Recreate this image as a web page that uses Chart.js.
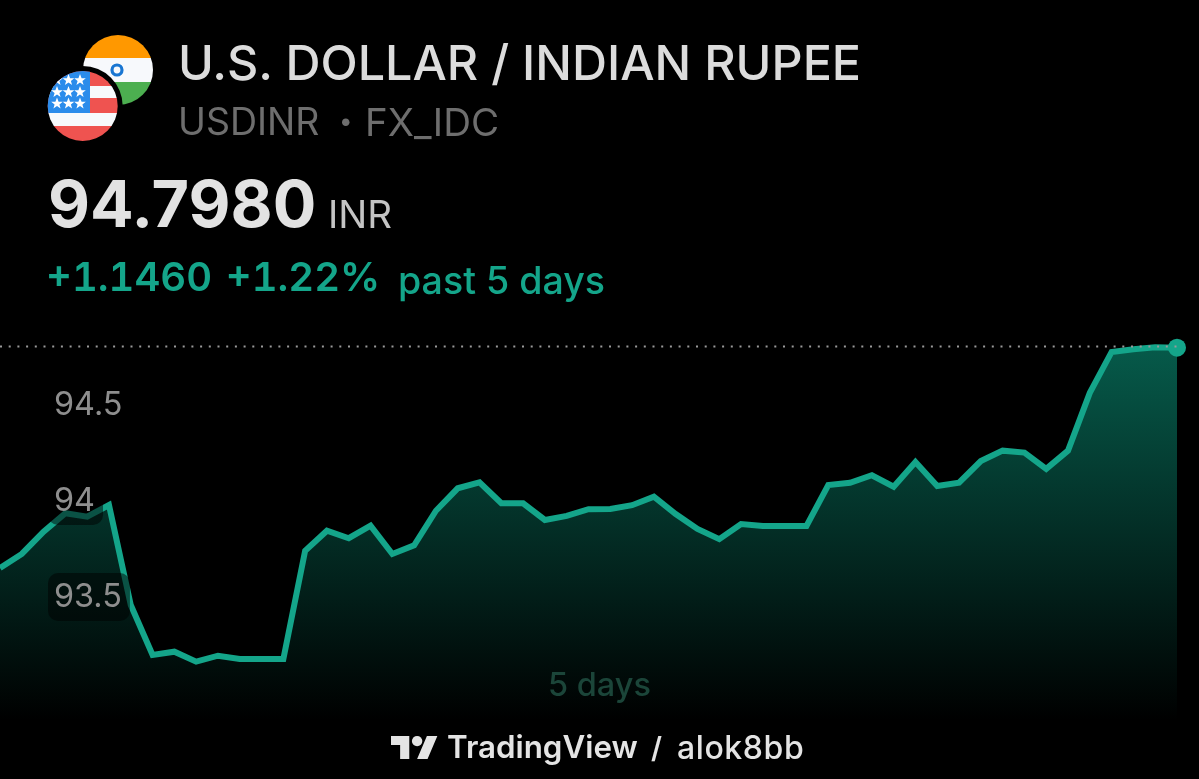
<!DOCTYPE html>
<html>
<head>
<meta charset="utf-8">
<title>USDINR</title>
<script src="https://cdn.jsdelivr.net/npm/chart.js@4/dist/chart.umd.min.js"></script>
<style>
  html, body { margin: 0; background: #000; }
  #page { position: relative; width: 1199px; height: 779px; overflow: hidden; font-family: Inter, sans-serif; }
  #page div, #page span { white-space: nowrap; }
  canvas { position: absolute; left: 0; top: 0; }
  .txt { position: absolute; line-height: 1; }
  #title { left: 178px; top: 39px; font-size: 48.5px; font-weight: 500; color: #dcdcdc; }
  #symbol { left: 178px; top: 103px; font-size: 37.5px; color: #6e6e6e; }
  #dot { left: 339px; top: 109px; font-size: 24px; color: #6e6e6e; }
  #feed { left: 365px; top: 103px; font-size: 38.5px; color: #6e6e6e; }
  #price { left: 48px; top: 172px; font-size: 64.7px; font-weight: 700; color: #e2e2e2; }
  #currency { left: 328px; top: 195px; font-size: 38.5px; color: #c4c4c4; }
  #change { left: 46px; top: 257px; font-size: 40px; font-weight: 600; color: #14a58a; font-feature-settings: 'tnum'; word-spacing: 3px; }
  #period { left: 398px; top: 262px; font-size: 37.6px; font-weight: 500; color: #14a58a; }
  #range { left: 548px; top: 669px; font-size: 32.5px; font-weight: 500; color: #1b4539; }
  #brand { left: 447px; top: 732px; font-size: 31.3px; font-weight: 600; color: #e4e4e4; }
  #slash { left: 651px; top: 733px; font-size: 29px; font-weight: 600; color: #e4e4e4; }
  #user { left: 677px; top: 732px; font-size: 32px; font-weight: 500; color: #e4e4e4; letter-spacing: 0.6px; }
  svg { position: absolute; }
</style>
</head>
<body>
<div id="page">
  <canvas id="priceChart" width="1199" height="779"></canvas>

  <svg id="flags" style="left:0;top:0" width="170" height="150" viewBox="0 0 170 150">
    <defs>
      <clipPath id="clipIn"><circle cx="118" cy="70" r="35"/></clipPath>
      <clipPath id="clipUs"><circle cx="82.7" cy="106" r="35"/></clipPath>
      <polygon id="star" points="0,-6 1.6,-1.8 5.8,-1.8 2.4,0.9 3.6,5 0,2.5 -3.6,5 -2.4,0.9 -5.8,-1.8 -1.6,-1.8" fill="#fff"/>
    </defs>
    <g clip-path="url(#clipIn)">
      <rect x="80" y="30" width="80" height="28" fill="#ff9800"/>
      <rect x="80" y="58" width="80" height="24" fill="#f7f9fc"/>
      <rect x="80" y="82" width="80" height="28" fill="#4caf50"/>
      <circle cx="117" cy="70" r="5" fill="none" stroke="#1976d2" stroke-width="3.2"/>
    </g>
    <circle cx="82.7" cy="106" r="40" fill="#000"/>
    <g clip-path="url(#clipUs)">
      <rect x="45" y="70" width="76" height="16" fill="#ef5350"/>
      <rect x="45" y="86" width="76" height="12" fill="#f7f9fc"/>
      <rect x="45" y="98" width="76" height="15" fill="#ef5350"/>
      <rect x="45" y="113" width="76" height="13" fill="#f7f9fc"/>
      <rect x="45" y="126" width="76" height="16" fill="#ef5350"/>
      <rect x="45" y="70" width="45" height="43" fill="#2b8ceb"/>
      <use href="#star" x="57" y="80"/><use href="#star" x="68.5" y="80"/><use href="#star" x="80" y="80"/>
      <use href="#star" x="57" y="92"/><use href="#star" x="68.5" y="92"/><use href="#star" x="80" y="92"/>
      <use href="#star" x="57" y="103.5"/><use href="#star" x="68.5" y="103.5"/><use href="#star" x="80" y="103.5"/>
    </g>
  </svg>

  <div class="txt" id="title">U.S. DOLLAR / INDIAN RUPEE</div>
  <div class="txt" id="symbol">USDINR</div>
  <div class="txt" id="dot">•</div>
  <div class="txt" id="feed">FX_IDC</div>
  <div class="txt" id="price">94.7980</div>
  <div class="txt" id="currency">INR</div>
  <div class="txt" id="change">+1.1460 +1.22%</div>
  <div class="txt" id="period">past 5 days</div>
  <div class="txt" id="range">5 days</div>

  <svg style="left:391px;top:736px" width="47" height="23" viewBox="0 4 36 18" preserveAspectRatio="none" fill="#e4e4e4">
    <path d="M14 22H7V11H0V4h14v18zM28 22h-8l7.5-18h8L28 22z"/>
    <circle cx="20" cy="8" r="4"/>
  </svg>
  <div class="txt" id="brand">TradingView</div>
  <div class="txt" id="slash">/</div>
  <div class="txt" id="user">alok8bb</div>
</div>

<script>
// USDINR closes, oldest first
var closes = [
    93.651, 93.724, 93.840, 93.936, 93.918, 93.979, 93.458, 93.198, 93.215, 93.163,
    93.194, 93.177, 93.177, 93.177, 93.741, 93.845, 93.806, 93.871, 93.724, 93.769,
    93.949, 94.066, 94.097, 93.988, 93.988, 93.901, 93.922, 93.957, 93.958, 93.978,
    94.022, 93.932, 93.854, 93.801, 93.880, 93.870, 93.870, 93.870, 94.083, 94.095,
    94.134, 94.074, 94.203, 94.078, 94.095, 94.208, 94.262, 94.252, 94.167, 94.262,
    94.563, 94.776, 94.790, 94.800, 94.798
];
var bars = closes.map(function (c, i) { return i; });
var priceTicks = [93.5, 94, 94.5];
var lastPrice = 94.798;

var lineColor = '#14a58a';
var tickFont = '32.4px Inter';

var ctx = document.getElementById('priceChart').getContext('2d');

var areaGradient = ctx.createLinearGradient(0, 347, 0, 720);
areaGradient.addColorStop(0, 'rgba(6, 90, 74, 1)');
areaGradient.addColorStop(1, 'rgba(0, 0, 0, 1)');

// rounded dark boxes behind the price labels, and the dotted last price line
var overlays = {
    id: 'overlays',
    afterDatasetsDraw: function (chart) {
        var c = chart.ctx;
        var y = chart.scales.y;

        c.save();
        c.font = tickFont;
        c.fillStyle = 'rgba(0, 0, 0, 0.5)';
        priceTicks.forEach(function (t) {
            var w = c.measureText(String(t)).width;
            var py = y.getPixelForValue(t);
            c.beginPath();
            c.roundRect(48, py - 24, w + 14, 48, 10);
            c.fill();
        });

        var ly = Math.floor(y.getPixelForValue(lastPrice)) - 0.5;
        c.strokeStyle = '#9a9a9a';
        c.lineWidth = 2;
        c.setLineDash([2, 6.7]);
        c.beginPath();
        c.moveTo(0, ly);
        c.lineTo(chart.chartArea.right, ly);
        c.stroke();
        c.restore();
    }
};

var priceChart = new Chart(ctx, {
    type: 'line',
    data: {
        labels: bars,
        datasets: [{
            data: closes,
            borderColor: lineColor,
            borderWidth: 6,
            tension: 0,
            fill: 'start',
            backgroundColor: areaGradient,
            clip: false,
            pointBackgroundColor: lineColor,
            pointBorderWidth: 0,
            pointRadius: function (p) { return p.dataIndex === closes.length - 1 ? 9 : 0; }
        }]
    },
    options: {
        responsive: false,
        animation: false,
        layout: { autoPadding: false, padding: { left: 0, right: 22, top: 0, bottom: 0 } },
        plugins: { legend: { display: false }, tooltip: { enabled: false } },
        scales: {
            x: { display: false },
            y: {
                position: 'left',
                min: 92.552,
                max: 96.609,
                border: { display: false },
                grid: { display: false },
                afterBuildTicks: function (axis) {
                    axis.ticks = priceTicks.map(function (t) { return { value: t }; });
                },
                // labels sit inside the plot, the axis takes no room
                afterFit: function (axis) {
                    axis.width = 0;
                    axis.paddingTop = 0;
                    axis.paddingBottom = 0;
                    axis.paddingLeft = 0;
                    axis.paddingRight = 0;
                },
                ticks: {
                    z: 1,
                    mirror: true,
                    padding: 54,
                    color: '#8e8e8e',
                    font: { family: 'Inter', size: 32.4 },
                    callback: function (v) { return String(v); }
                }
            }
        }
    },
    plugins: [overlays]
});
</script>
</body>
</html>
